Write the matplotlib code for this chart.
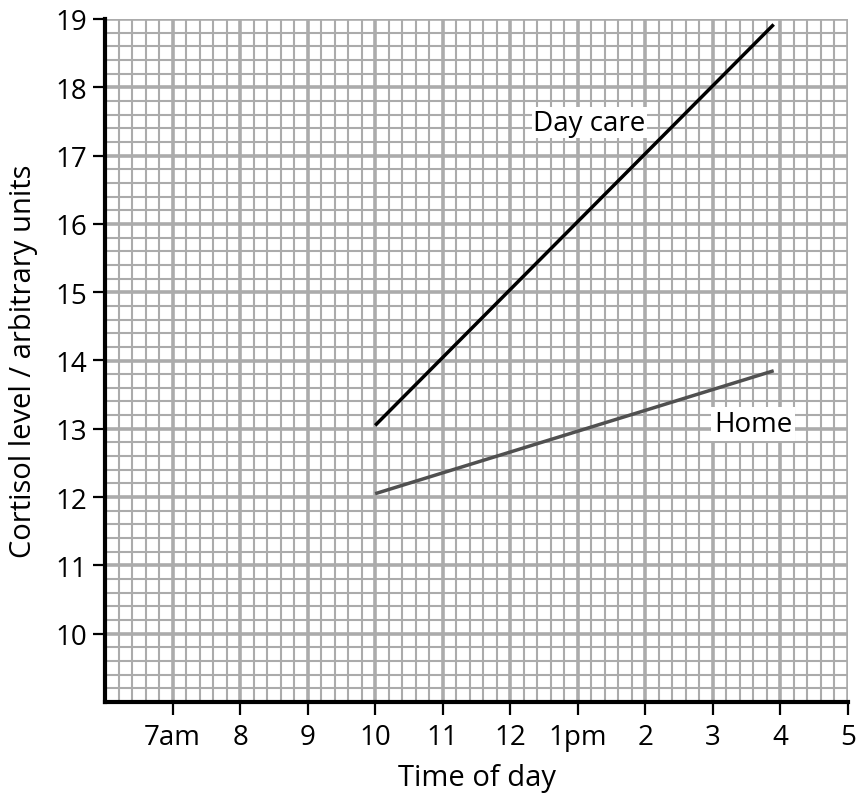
import numpy as np
import matplotlib
matplotlib.use("Agg")
import matplotlib.pyplot as plt

plt.rcParams['font.family'] = ['Open Sans', 'DejaVu Sans']

# Data
x_ticks = [7, 8, 9, 10, 11, 12, 13, 14, 15, 16, 17]
x_tick_labels = ['7am', '8', '9', '10', '11', '12', '1pm', '2', '3', '4', '5']
y_ticks = [10, 11, 12, 13, 14, 15, 16, 17, 18, 19]
daycare_x = [10.0, 15.9]
daycare_y = [13.05, 18.92]
home_x = [10.0, 15.9]
home_y = [12.05, 13.85]

fig = plt.figure(figsize=(8.59, 8.03), dpi=100)
ax = fig.add_axes([105/859, 1-703/803, (848-105)/859, (703-20)/803])
ax.set_xlim(6, 17)
ax.set_ylim(9, 19)

gcol = '#ababab'
for v in np.arange(6, 17.001, 0.2):
    major = abs(v - round(v)) < 1e-6
    ax.axvline(v, color=gcol, lw=2.6 if major else 1.5, zorder=1)
for v in np.arange(9, 19.001, 0.2):
    major = abs(v - round(v)) < 1e-6
    ax.axhline(v, color=gcol, lw=2.6 if major else 1.5, zorder=1)

ax.plot(daycare_x, daycare_y, color='black', lw=2.5, zorder=3, solid_capstyle='butt')
ax.plot(home_x, home_y, color='#505050', lw=2.5, zorder=3, solid_capstyle='butt')

ax.text(14.0, 17.48, 'Day care', fontsize=20, ha='right', va='center', zorder=4,
        bbox=dict(facecolor='white', edgecolor='none', pad=1))
ax.text(15.02, 13.07, 'Home', fontsize=20, ha='left', va='center', zorder=4,
        bbox=dict(facecolor='white', edgecolor='none', pad=2))

ax.set_xticks(x_ticks)
ax.set_xticklabels(x_tick_labels)
ax.set_yticks(y_ticks)
ax.tick_params(axis='both', labelsize=20, length=9, width=1.6, color='black')
ax.tick_params(axis='x', pad=6)
ax.tick_params(axis='y', pad=4)

for s in ['top', 'right']:
    ax.spines[s].set_visible(False)
for s in ['left', 'bottom']:
    ax.spines[s].set_linewidth(3)
    ax.spines[s].set_zorder(5)

ax.set_xlabel('Time of day', fontsize=21, labelpad=9)
ax.set_ylabel('Cortisol level / arbitrary units', fontsize=21, labelpad=12)

fig.savefig('out.png', dpi=100)
